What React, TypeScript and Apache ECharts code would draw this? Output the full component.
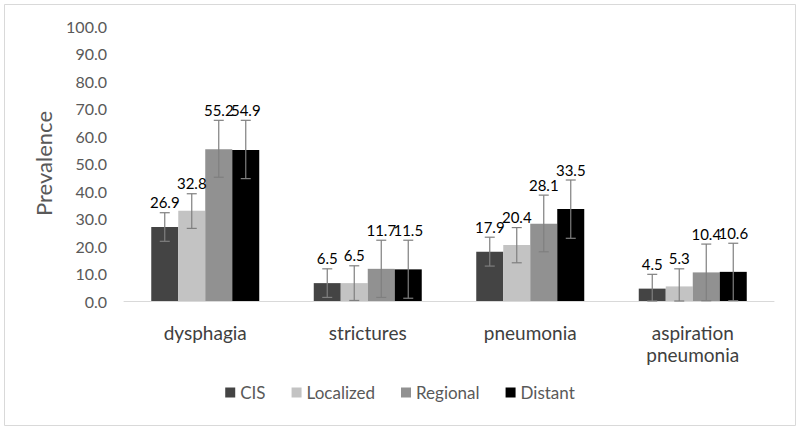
import React, { useEffect, useRef } from "react";
import * as echarts from "echarts";

const categories = ["dysphagia", "strictures", "pneumonia", "aspiration\npneumonia"];
const stages = ["CIS", "Localized", "Regional", "Distant"];
const cisValues = [26.9, 6.5, 17.9, 4.5];
const localizedValues = [32.8, 6.5, 20.4, 5.3];
const regionalValues = [55.2, 11.7, 28.1, 10.4];
const distantValues = [54.9, 11.5, 33.5, 10.6];
const cisLow = [21.7, 1.3, 12.7, 0];
const cisHigh = [32.1, 11.7, 23.2, 9.7];
const localizedLow = [26.4, 0.2, 13.9, 0];
const localizedHigh = [39.0, 12.8, 26.7, 11.7];
const regionalLow = [45.0, 1.3, 17.9, 0.1];
const regionalHigh = [65.7, 22.1, 38.5, 20.7];
const distantLow = [44.5, 1.0, 22.8, 0.1];
const distantHigh = [65.7, 22.1, 44.0, 21.0];
const yTicks = [0, 10, 20, 30, 40, 50, 60, 70, 80, 90, 100];

const colors = ["#444444", "#c3c3c3", "#919191", "#000000"];
const FONT = "Lato";

export default function App() {
  const ref = useRef<HTMLDivElement>(null);
  useEffect(() => {
    if (!ref.current) return;
    const chart = echarts.init(ref.current, undefined, { renderer: "svg" });
    const values = [cisValues, localizedValues, regionalValues, distantValues];
    const lows = [cisLow, localizedLow, regionalLow, distantLow];
    const highs = [cisHigh, localizedHigh, regionalHigh, distantHigh];
    const barW = 27;

    const barSeries = stages.map((s, i) => ({
      name: s,
      type: "bar",
      data: values[i],
      barWidth: barW,
      barGap: "0%",
      itemStyle: { color: colors[i] },
      z: 2,
    }));

    const errSeries = stages.map((s, i) => ({
      type: "custom",
      z: 5,
      data: categories.map((_, k) => [k, lows[i][k], highs[i][k], values[i][k]]),
      renderItem: (params: any, api: any) => {
        const k = api.value(0);
        const lo = api.coord([k, api.value(1)]);
        const hi = api.coord([k, api.value(2)]);
        const x = lo[0] + (i - 1.5) * barW;
        const cap = 5;
        const st = { stroke: "#7f7f7f", lineWidth: 1.2 };
        return {
          type: "group",
          children: [
            { type: "line", shape: { x1: x, y1: lo[1], x2: x, y2: hi[1] }, style: st },
            { type: "line", shape: { x1: x - cap, y1: hi[1], x2: x + cap, y2: hi[1] }, style: st },
            { type: "line", shape: { x1: x - cap, y1: lo[1], x2: x + cap, y2: lo[1] }, style: st },
            {
              type: "text",
              x: x,
              y: hi[1] - 3,
              style: {
                text: Number(api.value(3)).toFixed(1),
                align: "center",
                verticalAlign: "bottom",
                fill: "#000000",
                font: `15px ${FONT}`,
              },
            },
          ],
        };
      },
    }));

    chart.setOption({
      animation: false,
      backgroundColor: "#ffffff",
      textStyle: { fontFamily: FONT },
      graphic: [
        {
          type: "rect",
          shape: { x: 4.5, y: 4.5, width: 791, height: 421 },
          style: { fill: "none", stroke: "#d9d9d9", lineWidth: 1 },
        },
      ],
      grid: { left: 124, right: 26, top: 26, bottom: 129, containLabel: false },
      legend: {
        data: stages,
        bottom: 24,
        left: "center",
        icon: "rect",
        itemWidth: 10,
        itemHeight: 10,
        itemGap: 26,
        textStyle: { color: "#595959", fontSize: 17, fontFamily: FONT },
      },
      xAxis: {
        type: "category",
        data: categories,
        axisLine: { lineStyle: { color: "#d9d9d9", width: 1 } },
        axisTick: { show: false },
        axisLabel: { color: "#404040", fontSize: 19, margin: 20, lineHeight: 22, fontFamily: FONT },
      },
      yAxis: {
        type: "value",
        min: yTicks[0],
        max: yTicks[yTicks.length - 1],
        interval: 10,
        name: "Prevalence",
        nameLocation: "middle",
        nameRotate: 90,
        nameGap: 70,
        nameTextStyle: { color: "#595959", fontSize: 22, fontFamily: FONT },
        axisLine: { show: false },
        axisTick: { show: false },
        splitLine: { show: false },
        axisLabel: {
          color: "#595959",
          fontSize: 16,
          margin: 17,
          fontFamily: FONT,
          formatter: (v: number) => v.toFixed(1),
        },
      },
      series: [...barSeries, ...errSeries],
    });
    return () => chart.dispose();
  }, []);
  return <div ref={ref} style={{ width: 800, height: 430, position: "absolute", left: 0, top: 0 }} />;
}
